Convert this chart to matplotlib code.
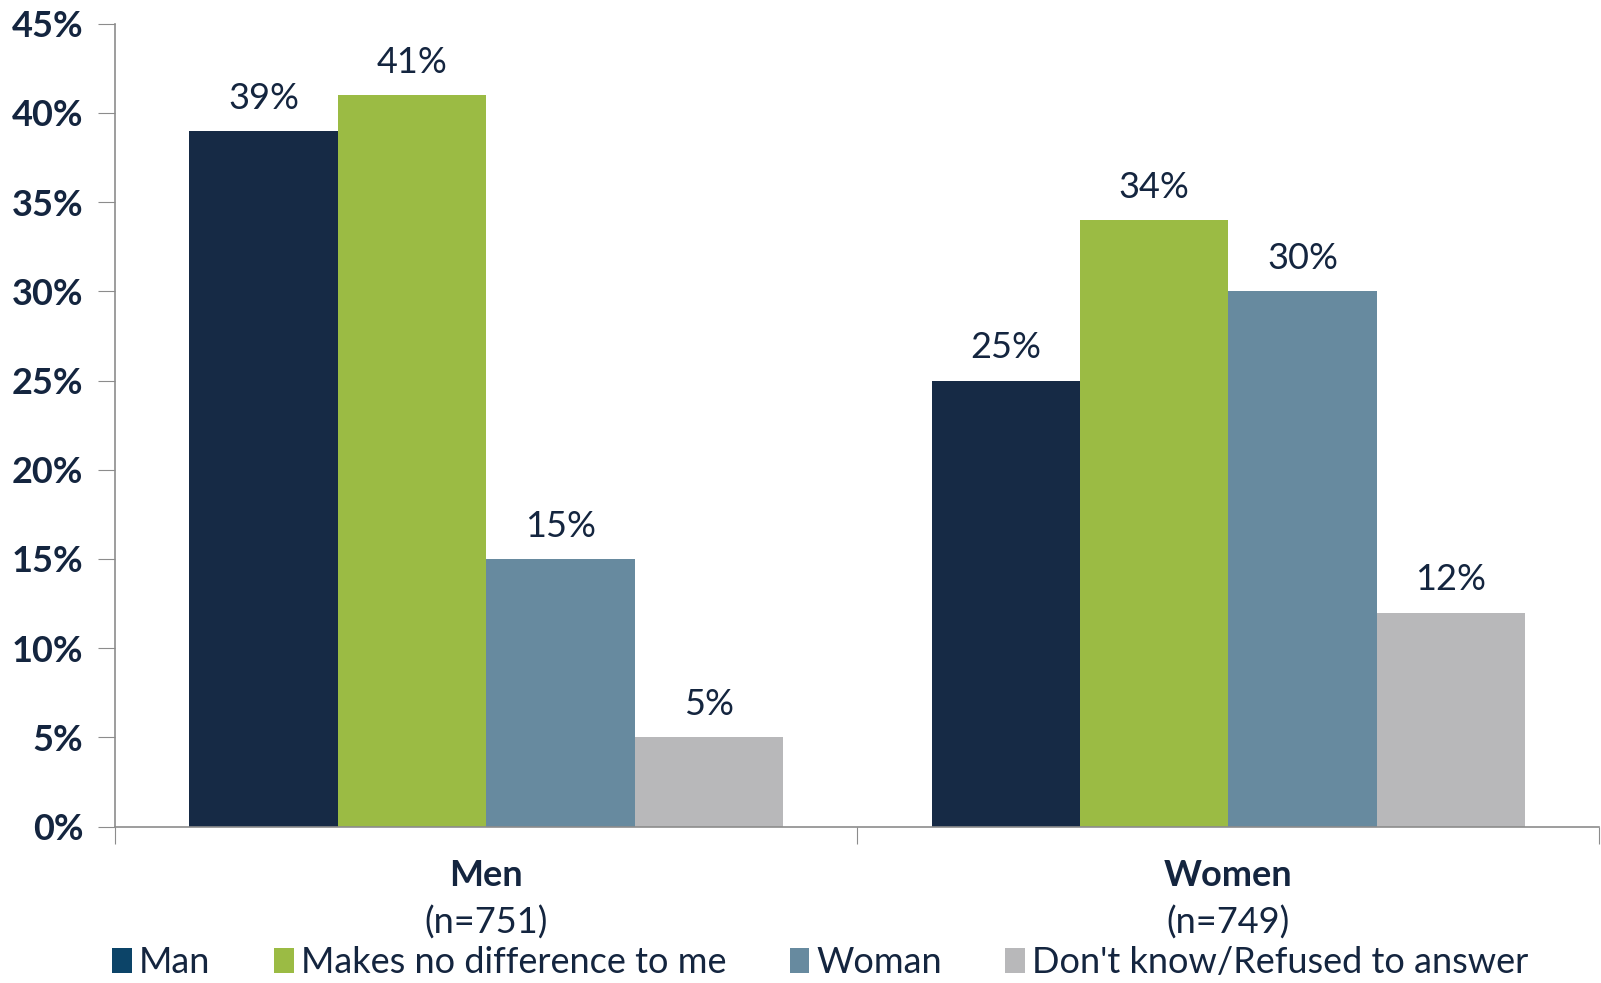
import matplotlib
matplotlib.use('Agg')
import matplotlib.pyplot as plt
from matplotlib.patches import Patch
import numpy as np

# dados do gráfico
grupos = ['Men', 'Women']
amostras = ['(n=751)', '(n=749)']
series = ['Man', 'Makes no difference to me', 'Woman', "Don't know/Refused to answer"]
valores = {
    'Man': [39, 25],
    'Makes no difference to me': [41, 34],
    'Woman': [15, 30],
    "Don't know/Refused to answer": [5, 12],
}

cores = ['#162A45', '#9BBB44', '#678A9F', '#B8B8BA']
cores_legenda = ['#0C4468', '#9BBB44', '#678A9F', '#B8B8BA']
cor_texto = '#14253F'

plt.rcParams['font.family'] = ['Lato', 'DejaVu Sans']
fs = 26

fig = plt.figure(figsize=(16.01, 9.83), dpi=100)
ax = fig.add_axes([0.072, 0.159, 0.927, 0.817])

x = np.arange(len(grupos))
largura = 0.2
for i, s in enumerate(series):
    pos = x - 0.3 + i * largura
    barras = ax.bar(pos, valores[s], largura, color=cores[i], zorder=2)
    for b, v in zip(barras, valores[s]):
        ax.text(b.get_x() + b.get_width() / 2, v + 0.9, f'{v}%',
                ha='center', va='bottom', fontsize=fs, color=cor_texto)

ax.set_xlim(-0.5, 1.5)
ax.set_ylim(0, 45)
ax.set_yticks(range(0, 50, 5))
ax.set_yticklabels([f'{t}%' for t in range(0, 50, 5)], fontsize=fs,
                   fontweight='bold', color=cor_texto)
ax.set_xticks([-0.5, 0.5, 1.5])
ax.set_xticklabels([])
ax.tick_params(axis='y', length=12, color='#8C8C8C', pad=11)
ax.tick_params(axis='x', length=12, color='#8C8C8C')

for lado in ['top', 'right']:
    ax.spines[lado].set_visible(False)
ax.spines['left'].set_color('#8C8C8C')
ax.spines['bottom'].set_color('#8C8C8C')
ax.spines['left'].set_linewidth(1.2)
ax.spines['bottom'].set_linewidth(1.2)

trans = ax.get_xaxis_transform()
for xi, g, n in zip(x, grupos, amostras):
    ax.text(xi, -0.04, g, transform=trans, ha='center', va='top',
            fontsize=fs, fontweight='bold', color=cor_texto)
    ax.text(xi, -0.098, n, transform=trans, ha='center', va='top',
            fontsize=fs, color=cor_texto)

handles = [Patch(facecolor=c, edgecolor='none') for c in cores_legenda]
leg = fig.legend(handles, series, loc='center left', bbox_to_anchor=(0.07, 0.021),
                 ncol=4, frameon=False, fontsize=fs, handlelength=0.55,
                 handleheight=0.7, handletextpad=0.2, columnspacing=1.75,
                 borderpad=0, borderaxespad=0)
for t in leg.get_texts():
    t.set_color(cor_texto)

plt.savefig('out.png', dpi=100)
